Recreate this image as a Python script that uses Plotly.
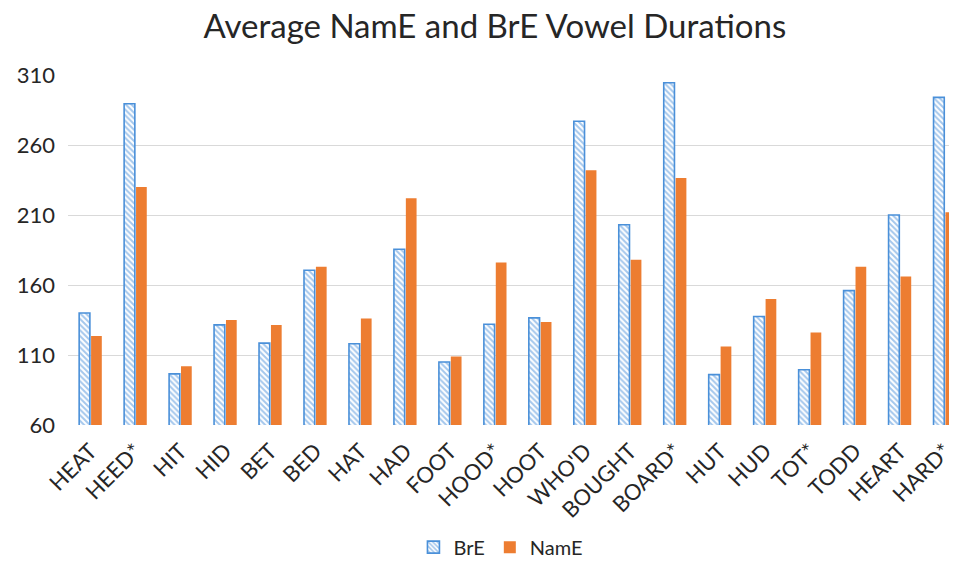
import plotly.graph_objects as go

categories = ["HEAT", "HEED*", "HIT", "HID", "BET", "BED", "HAT", "HAD", "FOOT", "HOOD*",
              "HOOT", "WHO'D", "BOUGHT", "BOARD*", "HUT", "HUD", "TOT*", "TODD", "HEART", "HARD*"]
bre = [140, 289.5, 96.5, 131.5, 118.5, 170.5, 118, 185.5, 105, 132,
       136.5, 277, 203, 304.5, 96, 137.5, 99.5, 156, 210, 294]
name = [123.5, 230, 102, 135, 131.5, 173, 136, 222, 109, 176,
        133.5, 242, 178, 236.5, 116, 150, 126, 173, 166, 212]
yticks = [60, 110, 160, 210, 260, 310]

BLUE = "#4A90D9"
ORANGE = "#ED7D31"
FONT = "Lato, 'Open Sans', sans-serif"
TXT = "#262626"

fig = go.Figure()
fig.add_trace(go.Bar(
    x=categories, y=bre, name="BrE",
    marker=dict(color="white", line=dict(color=BLUE, width=1.6),
                pattern=dict(shape="\\", fgcolor=BLUE, bgcolor="white",
                             fillmode="overlay", size=4, solidity=0.5)),
))
fig.add_trace(go.Bar(
    x=categories, y=name, name="NamE",
    marker=dict(color=ORANGE, line=dict(width=0)),
))

fig.update_layout(
    width=949, height=562,
    margin=dict(l=60, r=0, t=67, b=145, autoexpand=False),
    paper_bgcolor="white", plot_bgcolor="white",
    barmode="group", bargap=0.47, bargroupgap=0.1,
    title=dict(text="Average NamE and BrE Vowel Durations", x=0.513, xanchor="center",
               xref="container", y=0.968, yanchor="middle",
               font=dict(family=FONT, size=33, color=TXT)),
    font=dict(family=FONT, color=TXT),
    legend=dict(orientation="h", x=0.487, xanchor="center", y=-0.349, yanchor="middle",
                font=dict(size=20, color=TXT), traceorder="normal"),
    showlegend=True,
)
fig.update_xaxes(
    type="category", range=[-0.5, 19.27], tickangle=-45, automargin=False,
    tickfont=dict(size=22, color=TXT), showgrid=False,
    showline=False, ticks="", ticklabelstandoff=8,
)
fig.update_yaxes(
    range=[60, 310], tickvals=yticks, ticktext=[str(v) for v in yticks], automargin=False,
    tickfont=dict(size=22, color=TXT), showgrid=True, gridcolor="#D9D9D9",
    gridwidth=1.3, zeroline=False, showline=False, ticks="", ticklabelstandoff=12,
)
fig.write_html("out.html")
